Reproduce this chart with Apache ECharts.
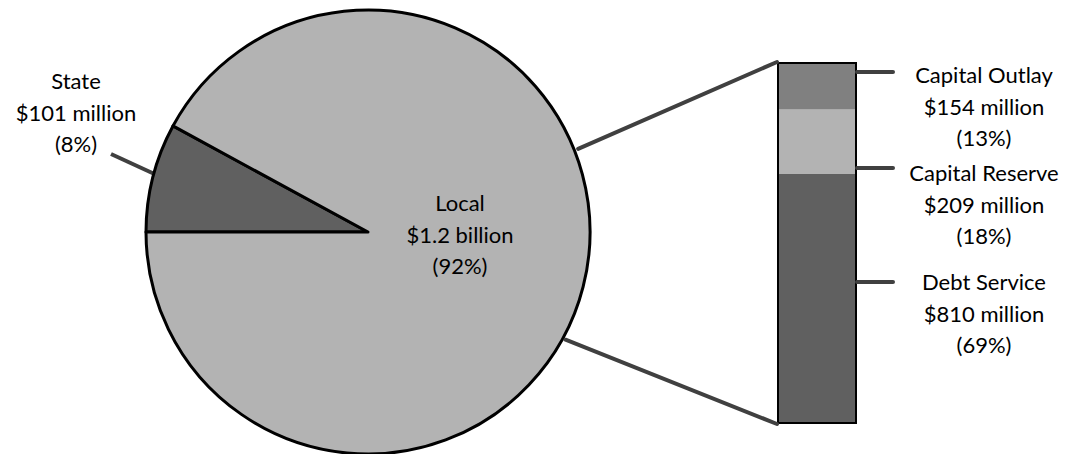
<!DOCTYPE html>
<html><head><meta charset="utf-8">
<script src="https://cdn.jsdelivr.net/npm/echarts@6/dist/echarts.min.js"></script>
<style>html,body{margin:0;padding:0;background:#fff}#c{width:1073px;height:454px}</style>
</head><body><div id="c"></div>
<script>
// ---- data ----
const pieNames = ['State', 'Local'];
const pieValues = [101, 1173];
const pieLabels = ['State\n$101 million\n(8%)', 'Local\n$1.2 billion\n(92%)'];
const barNames = ['Debt Service', 'Capital Reserve', 'Capital Outlay'];
const barValues = [810, 209, 154];
const barLabels = ['Debt Service\n$810 million\n(69%)', 'Capital Reserve\n$209 million\n(18%)', 'Capital Outlay\n$154 million\n(13%)'];

// ---- style ----
const FONT = 'Lato';
const FS = 22, LH = 31.5;
const cx = 368, cy = 232, R = 222;
const pieColors = ['#606060', '#b3b3b3'];
const barColors = ['#606060', '#b3b3b3', '#808080'];
const gLeft = 777, gWidth = 80, gTop = 62, gBottom = 30;
const total = barValues.reduce((a, b) => a + b, 0);

const chart = echarts.init(document.getElementById('c'), null, {renderer: 'svg'});

const barSeries = barNames.map((n, i) => ({
  name: n, type: 'bar', stack: 'local', xAxisIndex: 0, yAxisIndex: 0,
  barWidth: '100%', data: [barValues[i]],
  itemStyle: {color: barColors[i]}, silent: true, animation: false
}));
barSeries.push({
  name: 'outline', type: 'bar', xAxisIndex: 0, yAxisIndex: 0, barWidth: '100%', barGap: '-100%',
  data: [total], z: 5,
  itemStyle: {color: 'rgba(0,0,0,0)', borderColor: '#000', borderWidth: 2}, silent: true, animation: false
});

chart.setOption({
  animation: false,
  textStyle: {fontFamily: FONT},
  grid: {left: gLeft, width: gWidth, top: gTop, bottom: gBottom},
  xAxis: {type: 'category', data: ['Local'], show: false},
  yAxis: {type: 'value', min: 0, max: total, show: false},
  series: [{
    type: 'pie', center: [cx, cy], radius: R, startAngle: 180, clockwise: true,
    data: pieNames.map((n, i) => ({name: n, value: pieValues[i],
      itemStyle: {color: pieColors[i]},
      label: {position: i === 0 ? 'outside' : 'inside'},
      labelLine: {show: i === 0}
    })),
    itemStyle: {borderColor: '#000', borderWidth: 3},
    label: {
      formatter: p => pieLabels[p.dataIndex],
      fontFamily: FONT, fontSize: FS, lineHeight: LH, color: '#000', align: 'center',
      overflow: 'none', edgeDistance: 0, bleedMargin: 0
    },
    labelLine: {lineStyle: {color: '#404040', width: 4}, length: 20, length2: 0},
    labelLayout: function (p) {
      if (p.dataIndex === 0) {
        const a = (180 - 0.5 * 360 * pieValues[0] / (pieValues[0] + pieValues[1])) * Math.PI / 180;
        const ex = cx + R * Math.cos(a), ey = cy - R * Math.sin(a);
        return {x: cx - 292, y: cy - 120, align: 'center', verticalAlign: 'middle',
          labelLinePoints: [[ex, ey - 4], [cx - 257, cy - 78], [cx - 257, cy - 78]]};
      }
      return {x: cx + 92, y: cy + 2, align: 'center', verticalAlign: 'middle'};
    },
    emphasis: {disabled: true}, silent: true
  }].concat(barSeries)
});

// connectors and bar labels, positioned from the pie geometry and the bar grid
const topPx = chart.convertToPixel({gridIndex: 0}, [0, total]);
const botPx = chart.convertToPixel({gridIndex: 0}, [0, 0]);
const barL = gLeft, barR = gLeft + gWidth;
function piePt(deg, r) {
  const a = deg * Math.PI / 180;
  return [cx + r * Math.cos(a), cy - r * Math.sin(a)];
}
const p1 = piePt(21.6, R + 4), p2 = piePt(-28.6, R + 3);
const graphics = [
  {type: 'line', shape: {x1: p1[0], y1: p1[1], x2: barL, y2: topPx[1]}, style: {stroke: '#404040', lineWidth: 4, lineCap: 'round'}, z: 10},
  {type: 'line', shape: {x1: p2[0], y1: p2[1], x2: barL, y2: botPx[1]}, style: {stroke: '#404040', lineWidth: 4, lineCap: 'round'}, z: 10}
];
const leaderY = [282, 168, 72];
const textTop = [266, 157, 59];
for (let i = 0; i < barNames.length; i++) {
  graphics.push({type: 'line', shape: {x1: barR, y1: leaderY[i], x2: barR + 36, y2: leaderY[i]},
    style: {stroke: '#404040', lineWidth: 4, lineCap: 'round'}, z: 10});
  graphics.push({type: 'text', x: 984, y: textTop[i], z: 10,
    style: {text: barLabels[i], fontFamily: FONT, fontSize: FS, lineHeight: LH, fill: '#000', align: 'center', verticalAlign: 'top'}});
}
chart.setOption({graphic: graphics});
</script>
</body></html>
